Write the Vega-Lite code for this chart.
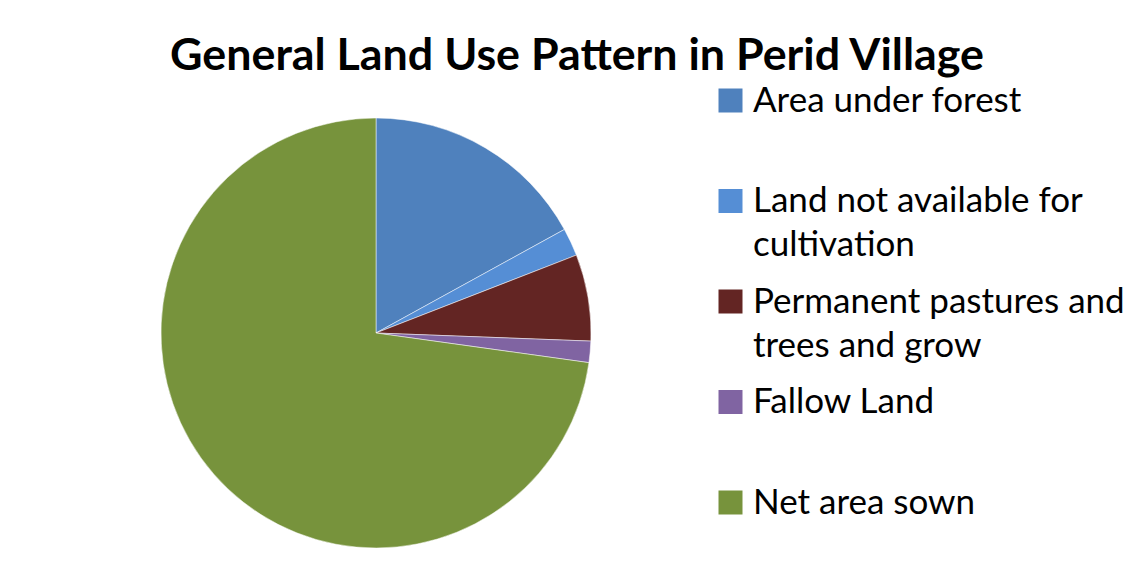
{
  "$schema": "https://vega.github.io/schema/vega-lite/v6.json",
  "autosize": {"type": "none"},
  "width": 430,
  "height": 430,
  "padding": {"left": 161, "top": 118, "right": 545, "bottom": 23},
  "background": "white",
  "title": {
    "text": "General Land Use Pattern in Perid Village",
    "font": "Lato",
    "fontSize": 44.8,
    "fontWeight": "bold",
    "color": "#000000",
    "anchor": "middle",
    "dx": 201,
    "offset": 3
  },
  "data": {
    "values": [
      {"category": "Area under forest", "value": 17.0, "order": 1},
      {"category": "Land not available for cultivation", "value": 2.1, "order": 2},
      {"category": "Permanent pastures and trees and grow", "value": 6.5, "order": 3},
      {"category": "Fallow Land", "value": 1.6, "order": 4},
      {"category": "Net area sown", "value": 72.8, "order": 5}
    ]
  },
  "mark": {"type": "arc", "outerRadius": 215, "stroke": "white", "strokeWidth": 0.5},
  "encoding": {
    "theta": {"field": "value", "type": "quantitative", "stack": true},
    "order": {"field": "order", "type": "quantitative"},
    "color": {
      "field": "category",
      "type": "nominal",
      "scale": {
        "domain": ["Area under forest", "Land not available for cultivation", "Permanent pastures and trees and grow", "Fallow Land", "Net area sown"],
        "range": ["#4F81BD", "#558ED5", "#632523", "#8064A2", "#77933C"]
      },
      "legend": {
        "title": null,
        "orient": "none",
        "legendX": 552,
        "legendY": -35,
        "padding": 0,
        "symbolType": "square",
        "symbolSize": 576,
        "symbolStrokeWidth": 0,
        "labelFont": "Lato",
        "labelFontSize": 35,
        "labelColor": "#000000",
        "labelLimit": 500,
        "labelOffset": 5,
        "rowPadding": 20.5,
        "labelExpr": "datum.label == 'Land not available for cultivation' ? ['Land not available for', 'cultivation'] : datum.label == 'Permanent pastures and trees and grow' ? ['Permanent pastures and', 'trees and grow'] : [datum.label, '']"
      }
    }
  },
  "config": {
    "view": {"stroke": null},
    "style": {"guide-label": {"lineHeight": 44}}
  }
}
